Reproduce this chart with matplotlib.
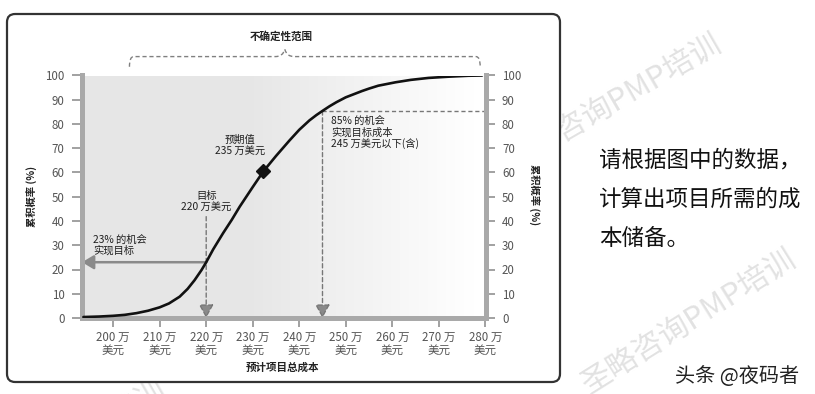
import numpy as np
import matplotlib
matplotlib.use('Agg')
import matplotlib.pyplot as plt
from matplotlib.patches import FancyBboxPatch, PathPatch
from matplotlib.path import Path

plt.rcParams['font.family'] = ['Noto Sans CJK SC', 'DejaVu Sans']

# ---------------- data ----------------
cost = [193.6, 197, 200, 202.5, 205, 207.5, 210, 212, 214.3, 216, 217.5, 219,
        220, 221.5, 223.6, 225.5, 227.2, 230, 232.3, 235, 237.9, 240, 242.2,
        243.7, 245, 246.5, 248, 250, 253.5, 255, 257, 260.7, 264, 267.8, 272,
        276.4, 279.3]
cum_prob = [0.4, 0.6, 0.9, 1.3, 2.0, 3.0, 4.4, 6.0, 8.8, 12.0, 15.6, 19.8,
            23, 28.3, 34.9, 40.5, 45.9, 54, 60.5, 66.8, 73.2, 77.6, 81.5,
            83.7, 85.4, 87.3, 89.0, 91.0, 93.6, 94.6, 95.8, 97.2, 98.2, 99.0,
            99.5, 99.9, 100]

x_ticks = [200, 210, 220, 230, 240, 250, 260, 270, 280]
x_tick_labels = [f'{v} 万\n美元' for v in x_ticks]
y_ticks = [0, 10, 20, 30, 40, 50, 60, 70, 80, 90, 100]

target_cost = 220
target_prob = 23
target_arrow_top = 41.8
p85_cost = 245
p85_prob = 85.4
expected_x, expected_y = 232.3, 60.5

x_min, x_max = 193.3, 280.15

# ---------------- figure ----------------
W, H = 815, 394
fig = plt.figure(figsize=(W / 100, H / 100), dpi=100)

def fx(px):
    return px / W

def fy(py):
    return 1 - py / H

# watermarks (behind the chart box)
wm = '圣略咨询PMP培训'
wm_col = '#e2e2e2'
fig.text(fx(613), fy(104), wm, rotation=30, fontsize=22, color=wm_col,
         ha='center', va='center', zorder=-3)
fig.text(fx(690), fy(322), wm, rotation=32, fontsize=22, color=wm_col,
         ha='center', va='center', zorder=-3)
fig.text(fx(58), fy(450), wm, rotation=30, fontsize=22, color=wm_col,
         ha='center', va='center', zorder=-3)

# chart box
box = FancyBboxPatch((fx(7), fy(382)), fx(560) - fx(7), fy(14) - fy(382),
                     boxstyle='round,pad=0,rounding_size=0.01',
                     mutation_aspect=W / H,
                     transform=fig.transFigure, fc='white', ec='#333333',
                     lw=1.6, zorder=-1)
fig.add_artist(box)

ax = fig.add_axes([fx(82), fy(318), fx(486) - fx(82), fy(75.5) - fy(318)])

# gradient background
t = np.linspace(0, 1, 400)
g = np.where(t < 0.42, 0.905, 0.905 + (1.0 - 0.905) * np.clip((t - 0.42) / 0.55, 0, 1))
img = np.stack([g, g, g], axis=-1)[None, :, :].repeat(2, axis=0)
ax.imshow(img, extent=[x_min, x_max, 0, 100], aspect='auto', zorder=0,
          interpolation='bilinear')
ax.set_xlim(x_min, x_max)
ax.set_ylim(0, 100)

spine_col = '#a9a9a9'
for s in ['top', 'right']:
    ax.spines[s].set_visible(False)
for s in ['left', 'bottom']:
    ax.spines[s].set_color(spine_col)
    ax.spines[s].set_linewidth(3.6)
    ax.spines[s].set_capstyle('projecting')

tick_fs = 8.3
ax.set_xticks(x_ticks)
ax.set_xticklabels(x_tick_labels, linespacing=1.0)
ax.set_yticks(y_ticks)
ax.tick_params(axis='y', direction='out', length=7, width=1.3, color='#9a9a9a',
               pad=5.5, labelsize=tick_fs, labelcolor='#555555')
ax.tick_params(axis='x', direction='out', length=6.5, width=1.3, color='#9a9a9a',
               pad=2.5, labelsize=tick_fs, labelcolor='#555555')

ax2 = ax.twinx()
ax2.set_ylim(0, 100)
ax2.set_yticks(y_ticks)
for s in ['top', 'left', 'bottom']:
    ax2.spines[s].set_visible(False)
ax2.spines['right'].set_color(spine_col)
ax2.spines['right'].set_linewidth(3.6)
ax2.spines['right'].set_capstyle('projecting')
ax2.tick_params(axis='y', direction='out', length=6.5, width=1.3, color='#9a9a9a',
                pad=5.0, labelsize=tick_fs, labelcolor='#555555')

arrow_col = '#8a8a8a'
dash_col = '#777777'

# 85% dashed lines
ax.plot([p85_cost, x_max], [p85_prob, p85_prob], ls=(0, (3, 2)), color=dash_col,
        lw=1.0, zorder=2, clip_on=False)
ax.annotate('', xy=(p85_cost, 0), xytext=(p85_cost, p85_prob),
            arrowprops=dict(arrowstyle='-|>,head_length=0.55,head_width=0.3',
                            ls=(0, (3, 2)), color=dash_col, fc='#8a8a8a',
                            lw=1.0, mutation_scale=15, shrinkA=0, shrinkB=0),
            zorder=2)
# target dashed arrow
ax.annotate('', xy=(target_cost, 0), xytext=(target_cost, target_arrow_top),
            arrowprops=dict(arrowstyle='-|>,head_length=0.55,head_width=0.3',
                            ls=(0, (3, 2)), color=dash_col, fc='#8a8a8a',
                            lw=1.0, mutation_scale=15, shrinkA=0, shrinkB=0),
            zorder=2)
# 23% horizontal arrow
ax.annotate('', xy=(x_min, target_prob), xytext=(target_cost, target_prob),
            arrowprops=dict(arrowstyle='-|>,head_length=0.5,head_width=0.3',
                            color=arrow_col, lw=1.8,
                            mutation_scale=14, shrinkA=0, shrinkB=0),
            zorder=2)

# S-curve
ax.plot(cost, cum_prob, color='#111111', lw=1.9, zorder=4,
        solid_capstyle='round', solid_joinstyle='round')
ax.plot([expected_x], [expected_y], marker='D', ms=7.5, color='#111111', zorder=5)

# annotations
txt_col = '#1e1e1e'
ann_fs = 7.4
ax.text(227.2, 71.3, '预期值\n235 万美元', ha='center', va='center', fontsize=ann_fs,
        color=txt_col, linespacing=1.15, zorder=6)
ax.text(target_cost, 48, '目标\n220 万美元', ha='center', va='center', fontsize=ann_fs,
        color=txt_col, linespacing=1.15, zorder=6)
ax.text(195.7, 30.0, '23% 的机会\n实现目标', ha='left', va='center', fontsize=ann_fs,
        color=txt_col, linespacing=1.15, zorder=6)
ax.text(246.9, 76.5, '85% 的机会\n实现目标成本\n245 万美元以下(含)', ha='left',
        va='center', fontsize=ann_fs, color=txt_col, linespacing=1.15, zorder=6)

# uncertainty bracket
xl, xr, xc = 203.5, 278.9, 236.9
yb, yt, yp = 103.6, 107.8, 110.8
verts = [(xl, yb), (xl, yt), (xl + 0.9, yt),
         (xc - 2.0, yt), (xc - 0.4, yt), (xc, yp),
         (xc + 0.4, yt), (xc + 2.0, yt),
         (xr - 0.9, yt), (xr, yt), (xr, yb)]
codes = [Path.MOVETO, Path.CURVE3, Path.CURVE3,
         Path.LINETO, Path.CURVE3, Path.CURVE3,
         Path.CURVE3, Path.CURVE3,
         Path.LINETO, Path.CURVE3, Path.CURVE3]
bracket = PathPatch(Path(verts, codes), fc='none', ec='#808080', lw=1.0,
                    ls=(0, (3, 2)), clip_on=False, zorder=3)
ax.add_patch(bracket)
ax.text(236.2, 116, '不确定性范围', ha='center', va='center', fontsize=7.6,
        fontweight='bold', color='#222222', clip_on=False)

# axis labels
fig.text(fx(31.7), fy(196), '累积概率 (%)', rotation=90, ha='center', va='center',
         fontsize=7.4, fontweight='bold', color='#222222')
fig.text(fx(535), fy(195), '累积概率 (%)', rotation=270, ha='center', va='center',
         fontsize=7.4, fontweight='bold', color='#222222')
fig.text(fx(282), fy(367.7), '预计项目总成本', ha='center', va='center',
         fontsize=7.6, fontweight='bold', color='#222222')

# side question text
side_lines = ['请根据图中的数据，', '计算出项目所需的成', '本储备。']
for line, yy in zip(side_lines, [160, 199.5, 238]):
    fig.text(fx(599), fy(yy), line, ha='left', va='center', fontsize=16.2,
             color='#111111')
fig.text(fx(675), fy(376), '头条 @夜码者', ha='left', va='center', fontsize=14.5,
         color='#222222')

fig.savefig('out.png', dpi=100)
